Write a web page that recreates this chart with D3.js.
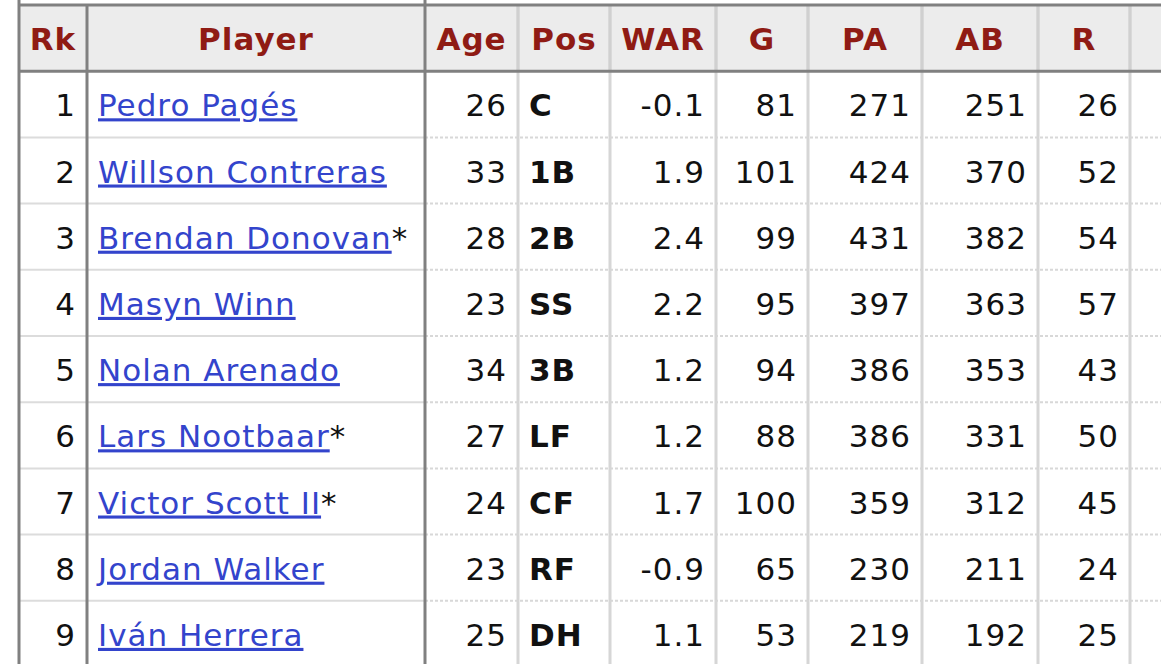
<!DOCTYPE html>
<html><head><meta charset="utf-8">
<script src="https://cdn.jsdelivr.net/npm/d3@7"></script>
<style>body{margin:0;background:#fff;overflow:hidden}</style>
</head><body><svg id="c" width="1161" height="664"></svg>
<script>
const headers = ["Rk","Player","Age","Pos","WAR","G","PA","AB","R"];
const ranks = [1,2,3,4,5,6,7,8,9];
const players = ["Pedro Pagés","Willson Contreras","Brendan Donovan","Masyn Winn","Nolan Arenado","Lars Nootbaar","Victor Scott II","Jordan Walker","Iván Herrera"];
const lefty = [false,false,true,false,false,true,true,false,false];
const ages = [26,33,28,23,34,27,24,23,25];
const positions = ["C","1B","2B","SS","3B","LF","CF","RF","DH"];
const war = ["-0.1","1.9","2.4","2.2","1.2","1.2","1.7","-0.9","1.1"];
const games = [81,101,99,95,94,88,100,65,53];
const pa = [271,424,431,397,386,386,359,230,219];
const ab = [251,370,382,363,353,331,312,211,192];
const runs = [26,52,54,57,43,50,45,24,25];

const colEdges = [19,87,425,518,610,716,808,922,1038,1130,1225];
const svg = d3.select("#c");
const font = "'DejaVu Sans', Verdana, sans-serif";
const y = d3.scaleBand().domain(d3.range(-1, ranks.length)).range([5, 5 + 66.2*10]);
const rowH = y.bandwidth();

svg.append("rect").attr("x",19).attr("y",y(-1)).attr("width",1161).attr("height",rowH).attr("fill","#ececec");

const cols = [
  {vals: ranks, align:"end"},
  {vals: players, align:"start", link:true},
  {vals: ages, align:"end"},
  {vals: positions, align:"start", bold:true},
  {vals: war, align:"end"},
  {vals: games, align:"end"},
  {vals: pa, align:"end"},
  {vals: ab, align:"end"},
  {vals: runs, align:"end"}
];

ranks.forEach((r,i)=>{
  if(i===0) return;
  const yy = y(i);
  svg.append("line").attr("x1",19).attr("x2",425).attr("y1",yy).attr("y2",yy).attr("stroke","#dcdcdc").attr("stroke-width",2);
  svg.append("line").attr("x1",425).attr("x2",1161).attr("y1",yy).attr("y2",yy).attr("stroke","#d8d8d8").attr("stroke-width",2).attr("stroke-dasharray","3,2");
});

colEdges.slice(1,-1).forEach(x=>{
  const dark = (x===87||x===425);
  svg.append("line").attr("x1",x).attr("x2",x).attr("y1",y(-1)).attr("y2",664)
    .attr("stroke", dark? "#808080":"#d6d6d6").attr("stroke-width",3);
});
colEdges.slice(3,-1).forEach(x=>{
  svg.append("line").attr("x1",x).attr("x2",x).attr("y1",y(-1)).attr("y2",y(0)).attr("stroke","#d0d0d0").attr("stroke-width",3);
});
svg.append("line").attr("x1",19).attr("x2",19).attr("y1",0).attr("y2",664).attr("stroke","#808080").attr("stroke-width",3);
svg.append("line").attr("x1",19).attr("x2",1161).attr("y1",y(-1)).attr("y2",y(-1)).attr("stroke","#808080").attr("stroke-width",3);
svg.append("line").attr("x1",19).attr("x2",1161).attr("y1",y(0)).attr("y2",y(0)).attr("stroke","#808080").attr("stroke-width",3);
svg.append("line").attr("x1",425).attr("x2",425).attr("y1",0).attr("y2",5).attr("stroke","#808080").attr("stroke-width",3);

headers.forEach((h,i)=>{
  svg.append("text").attr("x",(colEdges[i]+colEdges[i+1])/2).attr("y",y(-1)+rowH/2+12)
    .attr("text-anchor","middle").attr("font-family",font).attr("font-weight","bold")
    .attr("font-size",31).attr("letter-spacing",1).attr("fill","#8f1b14").text(h);
});

cols.forEach((c,ci)=>{
  c.vals.forEach((v,ri)=>{
    const x = c.align==="end" ? colEdges[ci+1]-11 : colEdges[ci]+11;
    const t = svg.append("text").attr("x",x).attr("y",y(ri)+rowH/2+12)
      .attr("text-anchor",c.align).attr("font-family",font).attr("font-size",31)
      .attr("letter-spacing",1)
      .attr("font-weight",c.bold?"bold":"normal").attr("fill","#111");
    if(c.link){
      t.append("tspan").attr("fill","#3344cc").attr("text-decoration","underline").text(v);
      if(lefty[ri]) t.append("tspan").attr("fill","#111").text("*");
    } else t.text(v);
  });
});
</script></body></html>
